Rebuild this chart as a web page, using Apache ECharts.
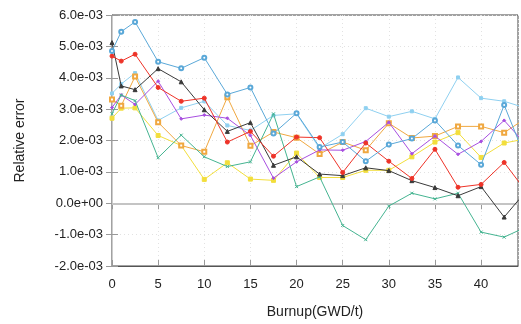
<!DOCTYPE html>
<html><head><meta charset="utf-8">
<script src="https://cdn.jsdelivr.net/npm/echarts@6/dist/echarts.min.js"></script>
<style>html,body{margin:0;padding:0;background:#fff}#c{width:521px;height:324px}</style>
</head><body><div id="c"></div>
<script>
// Burnup points (GWD/t)
const burnup = [0, 1, 2.5, 5, 7.5, 10, 12.5, 15, 17.5, 20, 22.5, 25, 27.5, 30, 32.5, 35, 37.5, 40, 42.5, 45];
// Relative error values, in units of 1e-3
const blueDark  = [4.85, 5.47, 5.78, 4.51, 4.30, 4.64, 3.47, 3.69, 2.22, 2.87, 1.79, 1.95, 1.34, 1.87, 2.06, 2.64, 1.84, 1.23, 3.13, 1.30];
const blueLight = [3.50, 3.80, 4.15, 2.64, 3.04, 3.25, 2.48, 2.32, 2.80, 2.85, 1.75, 2.20, 3.03, 2.76, 2.93, 2.69, 4.01, 3.35, 3.25, 3.02];
const red       = [4.69, 4.53, 4.75, 3.69, 3.25, 3.35, 1.95, 2.29, 1.50, 2.11, 2.09, 0.98, 1.92, 1.34, 0.79, 1.72, 0.51, 0.60, 1.30, 0.33];
const black     = [5.12, 3.74, 3.62, 4.29, 3.87, 2.98, 2.29, 2.57, 1.21, 1.48, 0.93, 0.88, 1.13, 1.04, 0.72, 0.50, 0.24, 0.53, -0.44, 0.43];
const yellow    = [2.71, 3.03, 3.04, 2.16, 1.84, 0.76, 1.29, 0.77, 0.73, 1.60, 0.82, 0.82, 1.05, 1.05, 1.48, 1.95, 2.25, 1.46, 1.92, 2.06];
const orange    = [3.31, 3.11, 4.04, 2.58, 1.84, 1.64, 3.38, 1.83, 2.27, 2.09, 1.57, 1.95, 1.69, 2.55, 2.08, 2.14, 2.45, 2.45, 2.25, 2.74];
const purple    = [3.05, 3.45, 3.15, 3.89, 2.69, 2.81, 2.71, 2.16, 0.80, 1.32, 1.70, 1.69, 1.97, 2.58, 1.58, 2.14, 1.56, 1.97, 2.64, 1.82];
const teal      = [2.85, 3.45, 3.27, 1.45, 2.17, 1.48, 1.17, 1.32, 2.85, 0.53, 0.84, -0.71, -1.16, -0.09, 0.32, 0.14, 0.32, -0.92, -1.08, -0.74];
const xTicks = [0, 5, 10, 15, 20, 25, 30, 35, 40];

function pairs(arr){ return burnup.map((b,i)=>[b, arr[i]*1e-3]); }
function fmt(v){
  v = Number(v.toPrecision(8));
  let s = v.toExponential(1);
  let m = s.split('e');
  let e = parseInt(m[1],10);
  let sign = e < 0 ? '-' : '+';
  let ae = Math.abs(e);
  return m[0] + 'e' + sign + (ae < 10 ? '0' + ae : '' + ae);
}
const xPath = 'path://M0,0L10,10M10,0L0,10';
const defs = [
  {name:'a', d: blueLight, color:'#8fd0f0', symbol:'rect', size:3},
  {name:'b', d: yellow,    color:'#f2de3c', symbol:'rect', size:4},
  {name:'c', d: orange,    color:'#f0a840', symbol:'emptyRect', size:4},
  {name:'d', d: purple,    color:'#a84fe0', symbol:'diamond', size:3},
  {name:'e', d: teal,      color:'#45b491', symbol:xPath, size:3},
  {name:'f', d: black,     color:'#3a3a3a', symbol:'triangle', size:4},
  {name:'g', d: red,       color:'#ee3328', symbol:'circle', size:4},
  {name:'h', d: blueDark,  color:'#5aa8d8', symbol:'emptyCircle', size:4},
];
const series = defs.map((s, i) => ({
  name: s.name, type:'line', data: pairs(s.d), symbol: s.symbol, symbolSize: s.size,
  showAllSymbol: true, clip: true, animation:false,
  lineStyle:{color:s.color, width:1}, itemStyle:{color:s.color, borderColor:s.color, borderWidth:1},
  z: 3 + i,
  markLine: i === 0 ? {silent:true, symbol:'none', label:{show:false}, animation:false,
    lineStyle:{color:'#c4c4c4', width:2, type:'solid'}, data:[{yAxis:0}]} : undefined
}));
const chart = echarts.init(document.getElementById('c'), null, {renderer:'canvas'});
chart.setOption({
  animation:false,
  backgroundColor:'#fff',
  grid:{left:112, right:2, top:15, bottom:56, show:true, borderColor:'#444', borderWidth:1},
  textStyle:{fontFamily:'Liberation Sans, Arial, sans-serif'},
  xAxis:[{
    type:'value', min:0, max:44, interval:5,
    name:'Burnup(GWD/t)', nameLocation:'middle', nameGap:39,
    nameTextStyle:{fontSize:14, color:'#222', fontFamily:'Liberation Sans'},
    axisLine:{show:true, onZero:false, lineStyle:{color:'#555', width:1}},
    axisTick:{show:true, inside:true, length:6, lineStyle:{color:'#999'}},
    axisLabel:{fontSize:13, color:'#222', margin:12, fontFamily:'Liberation Sans',
      formatter: v => xTicks.indexOf(v) >= 0 ? String(v) : ''},
    splitLine:{show:true, lineStyle:{color:'#e2e2e2', type:[1,3], width:1}}
  },{
    type:'value', min:0, max:44, interval:5, position:'top',
    axisLine:{show:true, lineStyle:{color:'#444'}},
    axisTick:{show:true, inside:true, length:6, lineStyle:{color:'#999'}},
    axisLabel:{show:false}, splitLine:{show:false}
  }],
  yAxis:[{
    type:'value', min:-2e-3, max:6e-3, interval:1e-3,
    name:'Relative error', nameLocation:'middle', nameGap:85, nameRotate:90,
    nameTextStyle:{fontSize:14, color:'#222', fontFamily:'Liberation Sans'},
    axisLine:{show:true, onZero:false, lineStyle:{color:'#222', width:1}},
    axisTick:{show:true, inside:true, length:6, lineStyle:{color:'#999'}},
    axisLabel:{fontSize:13, color:'#222', margin:9, fontFamily:'Liberation Sans', formatter: v => fmt(v)},
    splitLine:{show:true, lineStyle:{color:'#e2e2e2', type:[1,3], width:1}}
  },{
    type:'value', min:-2e-3, max:6e-3, interval:1e-3, position:'right',
    axisLine:{show:true, lineStyle:{color:'#ccc'}},
    axisTick:{show:true, inside:true, length:6, lineStyle:{color:'#999'}},
    axisLabel:{show:false}, splitLine:{show:false}
  }],
  series: series
});
</script></body></html>
